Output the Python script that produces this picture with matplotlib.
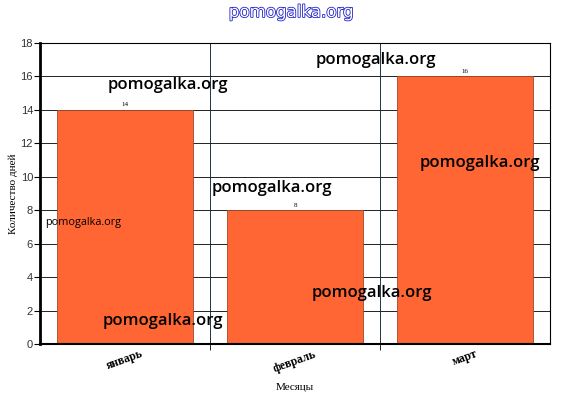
import matplotlib
matplotlib.use("Agg")
import matplotlib.pyplot as plt
import matplotlib.patheffects as pe
import matplotlib.transforms as mtrans

# данные
months = ["январь", "февраль", "март"]
days = [14, 8, 16]
yticks = list(range(0, 19, 2))

W, H = 581, 398
fig = plt.figure(figsize=(W / 100, H / 100), dpi=100)
ax = fig.add_axes([40 / W, 1 - 344 / H, 510 / W, 301 / H])

x = list(range(len(months)))
bars = ax.bar(x, days, width=0.8, color="#FF6633", edgecolor="#9a4a2a", linewidth=0.6, zorder=2)
for b, v in zip(bars, days):
    ax.text(b.get_x() + b.get_width() / 2, v + 0.15, str(v), ha="center", va="bottom",
            fontsize=5, family="Liberation Serif", zorder=3)

ax.set_xlim(-0.5, len(months) - 0.5)
ax.set_ylim(0, 18)
ax.set_yticks(yticks)
ax.set_xticks(x)
ax.set_xticklabels(months, rotation=20, ha="center", family="Liberation Serif",
                   fontsize=8.5, fontweight="bold")
shift = mtrans.ScaledTranslation(-13 / 100, 0, fig.dpi_scale_trans)
for lab in ax.get_xticklabels():
    lab.set_transform(lab.get_transform() + shift)
ax.set_xticks([i + 0.5 for i in x[:-1]], minor=True)
ax.tick_params(axis="x", which="major", length=0, pad=3)
ax.tick_params(axis="x", which="minor", length=4, color="black")
ax.tick_params(axis="y", length=4, labelsize=8, pad=1)
for lab in ax.get_yticklabels():
    lab.set_family("Liberation Sans")
    lab.set_color("#333333")

ax.grid(axis="y", color="#222222", linewidth=0.7, zorder=1)
ax.grid(axis="x", which="minor", color="#223344", linewidth=0.7, zorder=1)
for s in ax.spines.values():
    s.set_linewidth(0.8)
ax.spines["left"].set_linewidth(2)
ax.spines["bottom"].set_linewidth(1.5)

ax.set_ylabel("Количество дней", family="Liberation Serif", fontsize=8, labelpad=2)
ax.set_xlabel("Месяцы", family="Liberation Serif", fontsize=8, labelpad=6)

# водяные знаки
marks = [(108, 85, 12, "semibold"), (316, 60, 12, "semibold"), (420, 163, 12, "semibold"),
         (212, 188, 12, "semibold"), (312, 293, 12, "semibold"), (103, 321, 12, "semibold"),
         (45, 222, 7.8, "normal")]
for px, py, fs, fw in marks:
    fig.text(px / W, 1 - py / H, "pomogalka.org", fontsize=fs, fontweight=fw,
             family="Open Sans", ha="left", va="center", color="black", zorder=10)

fig.text(291 / W, 1 - 12 / H, "pomogalka.org", fontsize=12, family="DejaVu Sans",
         ha="center", va="center", color="white",
         path_effects=[pe.withStroke(linewidth=1.2, foreground="#2222cc")])

fig.savefig("out.png", dpi=100, facecolor="white")
